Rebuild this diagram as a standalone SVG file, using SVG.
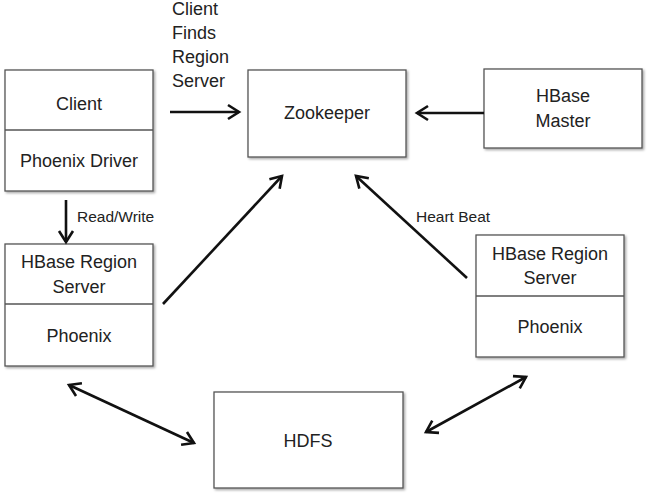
<svg xmlns="http://www.w3.org/2000/svg" width="647" height="497" viewBox="0 0 647 497">
<style>
.box{fill:#fff;stroke:#555;stroke-width:1.3;filter:url(#sh)}
.div{stroke:#555;stroke-width:1.3}
.t{font-family:"Liberation Sans",Arial,sans-serif;font-size:18px;fill:#222;text-anchor:middle}
.l{font-family:"Liberation Sans",Arial,sans-serif;font-size:15.5px;fill:#222}
.lb{font-family:"Liberation Sans",Arial,sans-serif;font-size:18px;fill:#222}
.c{stroke:#111;stroke-width:2.6;fill:none;marker-end:url(#ah)}
.c2{stroke:#111;stroke-width:2.6;fill:none;marker-end:url(#ah);marker-start:url(#ah)}
</style>
<defs>
<filter id="sh" x="-10%" y="-10%" width="130%" height="130%">
<feDropShadow dx="1.5" dy="1.5" stdDeviation="1" flood-color="#000" flood-opacity="0.35"/>
</filter>
<marker id="ah" markerUnits="userSpaceOnUse" markerWidth="20" markerHeight="20" viewBox="-14 -10 18 20" refX="0" refY="0" orient="auto-start-reverse">
<path d="M-11,-7 L0,0 L-11,7" fill="none" stroke="#111" stroke-width="2.6" stroke-linejoin="miter"/>
</marker>
</defs>
<rect width="647" height="497" fill="#fff"/>
<g id="client">
<rect class="box" x="5" y="70" width="148" height="121"/>
<line class="div" x1="5" y1="130" x2="153" y2="130"/>
<text class="t" x="79" y="110">Client</text>
<text class="t" x="79" y="167">Phoenix Driver</text>
</g>
<g id="zookeeper">
<rect class="box" x="248" y="70" width="158" height="87"/>
<text class="t" x="327" y="119">Zookeeper</text>
</g>
<g id="hbase-master">
<rect class="box" x="484" y="69" width="158" height="79"/>
<text class="t" x="563" y="102">HBase</text>
<text class="t" x="563" y="127">Master</text>
</g>
<g id="region-server-left">
<rect class="box" x="5" y="244" width="148" height="122"/>
<line class="div" x1="5" y1="304" x2="153" y2="304"/>
<text class="t" x="79" y="268">HBase Region</text>
<text class="t" x="79" y="293">Server</text>
<text class="t" x="79" y="342">Phoenix</text>
</g>
<g id="region-server-right">
<rect class="box" x="476" y="235" width="148" height="122"/>
<line class="div" x1="476" y1="296" x2="624" y2="296"/>
<text class="t" x="550" y="260">HBase Region</text>
<text class="t" x="550" y="284">Server</text>
<text class="t" x="550" y="333">Phoenix</text>
</g>
<g id="hdfs">
<rect class="box" x="214" y="392" width="189" height="96"/>
<text class="t" x="308" y="447">HDFS</text>
</g>
<g id="connectors">
<line class="c" x1="170" y1="112" x2="239" y2="112"/>
<line class="c" x1="484" y1="113" x2="417" y2="113"/>
<line class="c" x1="66" y1="200" x2="66" y2="242"/>
<line class="c" x1="163" y1="304" x2="282" y2="176"/>
<line class="c" x1="467" y1="278" x2="356" y2="176"/>
<line class="c2" x1="69" y1="385" x2="194" y2="443"/>
<line class="c2" x1="426" y1="432" x2="526" y2="377"/>
</g>
<g id="labels">
<text class="lb" x="172" y="15">Client</text>
<text class="lb" x="172" y="39">Finds</text>
<text class="lb" x="172" y="63">Region</text>
<text class="lb" x="172" y="87">Server</text>
<text class="l" x="77" y="222">Read/Write</text>
<text class="l" x="416" y="222">Heart Beat</text>
</g>
</svg>
